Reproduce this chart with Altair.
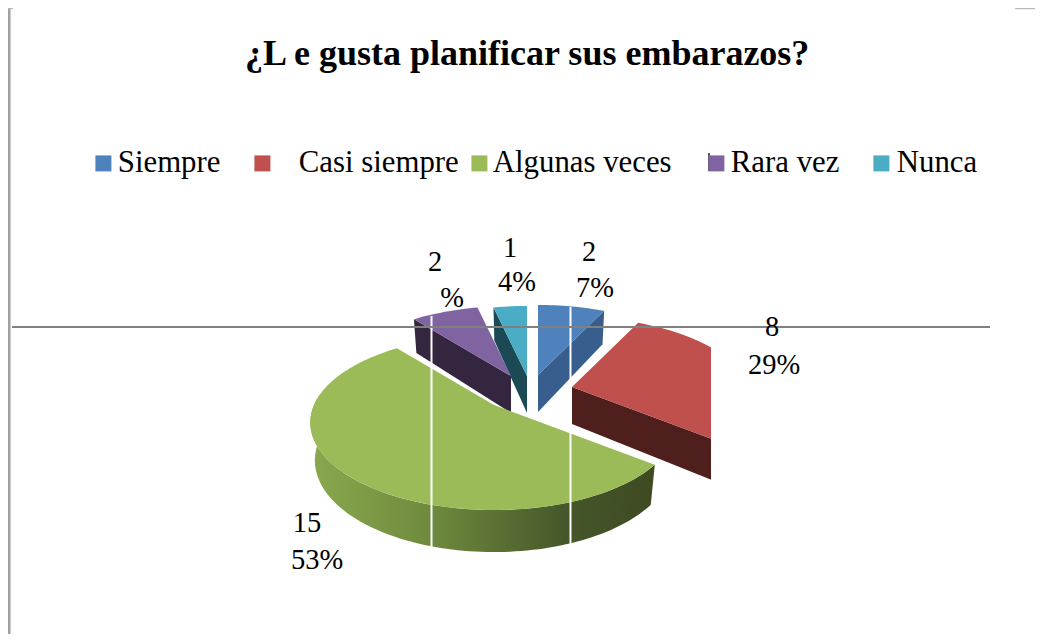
import numpy as np
import pandas as pd
import altair as alt

# ---------- data ----------
categories = ["Siempre", "Casi siempre", "Algunas veces", "Rara vez", "Nunca"]
counts = [2, 8, 15, 2, 1]
count_labels = ["2", "8", "15", "2", "1"]
percent_labels = ["7%", "29%", "53%", "%", "4%"]
title_text = "¿L e gusta planificar sus embarazos?"

# ---------- styles ----------
top_colors = ["#4f81bd", "#c0504d", "#9bbb59", "#8064a2", "#4bacc6"]
wall_colors = ["#375e8c", "#4f1f1e", "#3f4a20", "#35263f", "#1b4a54"]
FONT = "Liberation Serif"
W, H = 1027, 626

# ---------- layout of the pseudo-3D pie ----------
A, B, K, KD, DEPTH, STEP = 180.0, 84.0, 0.2, 0.12, 37.0, 1.5
apex_x = [538, 572, 494, 511, 527]
apex_y = [375, 387, 405, 376, 376]
label_count_xy = [(589, 252), (772, 327), (307, 523), (435, 262), (510, 248)]
label_pct_xy = [(595, 288), (774, 365), (317, 560), (452, 298), (517, 282)]
legend_x = [80, 239, 456, 693, 858]
legend_label_offset = [-1, 21, -2, -1, 0]
LEGEND_Y = 140

total = sum(counts)
edges = np.cumsum([0] + counts) / total * 360.0
x_enc = alt.X("x:Q", axis=None, scale=alt.Scale(domain=[8, 8 + W]))
y_enc = alt.Y("y:Q", axis=None, scale=alt.Scale(domain=[8 + H, 8]))


def ring(i, theta, low=False):
    t = np.radians(theta)
    s = 1.0 / (1.0 + K * np.cos(t))
    sd = 1.0 / (1.0 + KD * np.cos(t))
    x = apex_x[i] + A * (0.975 if low else 1.0) * np.sin(t) * s
    y = apex_y[i] - B * np.cos(t) * s + (DEPTH * sd if low else 0)
    return float(x), float(y)


def polygon(points, name=""):
    return pd.DataFrame(
        [{"x": p[0], "y": p[1], "k": n, "cat": name} for n, p in enumerate(points)]
    )


def top_face(i):
    a, b = edges[i], edges[i + 1]
    n = max(int((b - a) / STEP), 2)
    return [(apex_x[i], apex_y[i])] + [ring(i, t) for t in np.linspace(a, b, n)]


def radial_wall(i, theta):
    return [
        (apex_x[i], apex_y[i]),
        ring(i, theta),
        ring(i, theta, True),
        (apex_x[i], apex_y[i] + DEPTH),
    ]


def arc_wall(i, a, b):
    ts = np.linspace(a, b, int((b - a) / STEP))
    return [ring(i, t) for t in ts] + [ring(i, t, True) for t in ts[::-1]]


def poly_layer(points, fill):
    return (
        alt.Chart(polygon(points))
        .mark_line(fill=fill, strokeWidth=0, stroke="transparent")
        .encode(x=x_enc, y=y_enc, order="k:Q")
    )


def top_layer(i):
    return (
        alt.Chart(polygon(top_face(i), categories[i]))
        .mark_line(strokeWidth=0, stroke="transparent")
        .encode(
            x=x_enc,
            y=y_enc,
            order="k:Q",
            fill=alt.Fill(
                "cat:N",
                scale=alt.Scale(domain=[categories[i]], range=[top_colors[i]]),
                legend=alt.Legend(
                    title=None,
                    orient="none",
                    legendX=legend_x[i],
                    legendY=LEGEND_Y,
                    symbolType="square",
                    symbolSize=256,
                    symbolStrokeWidth=0,
                    symbolOpacity=1,
                    labelFont=FONT,
                    labelFontSize=30.8,
                    labelColor="#000000",
                    labelLimit=400,
                    labelOffset={"expr": str(legend_label_offset[i])},
                    padding=0,
                ),
            ),
        )
    )


green_gradient = alt.Gradient(
    gradient="linear",
    x1=0, x2=1, y1=0, y2=0,
    stops=[
        alt.GradientStop(offset=0, color="#8aa84e"),
        alt.GradientStop(offset=0.35, color="#6f8a3d"),
        alt.GradientStop(offset=0.75, color="#45562a"),
        alt.GradientStop(offset=1, color="#3e4a22"),
    ],
)

walls = [
    poly_layer(radial_wall(3, edges[3]), wall_colors[3]),
    poly_layer(radial_wall(4, edges[4]), wall_colors[4]),
    poly_layer(radial_wall(0, edges[1]), wall_colors[0]),
    poly_layer(radial_wall(1, edges[2]), wall_colors[1]),
    poly_layer(arc_wall(2, edges[2], 278), green_gradient),
]
tops = [top_layer(i) for i in range(5)]

clip_df = pd.DataFrame({"x": [711], "x2": [770], "y": [318], "y2": [500]})
clip = (
    alt.Chart(clip_df)
    .mark_rect(color="#ffffff")
    .encode(x=x_enc, x2="x2:Q", y=y_enc, y2="y2:Q")
)

rules_df = pd.DataFrame(
    [
        {"x": 431.5, "x2": 431.5, "y": 316, "y2": 549, "c": "#ffffff", "w": 2},
        {"x": 570.5, "x2": 570.5, "y": 307, "y2": 544, "c": "#ffffff", "w": 2},
        {"x": 12, "x2": 990, "y": 327, "y2": 327, "c": "#808080", "w": 2},
        {"x": 9, "x2": 9, "y": 8, "y2": 8 + H, "c": "#a0a0a0", "w": 3},
        {"x": 8, "x2": 13, "y": 8.5, "y2": 8.5, "c": "#b8b8b8", "w": 1.5},
        {"x": 1015, "x2": 1035, "y": 8.5, "y2": 8.5, "c": "#b8b8b8", "w": 1.5},
        {"x": 709, "x2": 709, "y": 153, "y2": 171, "c": "#1a1a2a", "w": 1.5},
    ]
)
rules = (
    alt.Chart(rules_df)
    .mark_rule()
    .encode(
        x=x_enc,
        x2="x2:Q",
        y=y_enc,
        y2="y2:Q",
        color=alt.Color("c:N", scale=None, legend=None),
        strokeWidth=alt.StrokeWidth("w:Q", scale=None, legend=None),
    )
)

labels_df = pd.DataFrame(
    {
        "text": count_labels + percent_labels,
        "x": [p[0] for p in label_count_xy + label_pct_xy],
        "y": [p[1] for p in label_count_xy + label_pct_xy],
    }
)
labels = (
    alt.Chart(labels_df)
    .mark_text(font=FONT, fontSize=28.5, color="#000000", align="center", baseline="middle")
    .encode(x=x_enc, y=y_enc, text="text:N")
)

chart = (
    alt.layer(*walls, *tops, clip, rules, labels)
    .resolve_scale(fill="independent")
    .properties(
        width=W,
        height=H,
        padding=0,
        background="#ffffff",
        autosize=alt.AutoSizeParams(type="none", contains="padding"),
        title=alt.TitleParams(
            title_text,
            font=FONT,
            fontSize=36,
            fontWeight="bold",
            color="#000000",
            anchor="start",
            frame="group",
            dx=237,
            dy=70,
        ),
    )
    .configure_view(stroke="transparent", strokeWidth=0)
)

chart.save("out.html", embed_options={"renderer": "svg", "actions": False})
